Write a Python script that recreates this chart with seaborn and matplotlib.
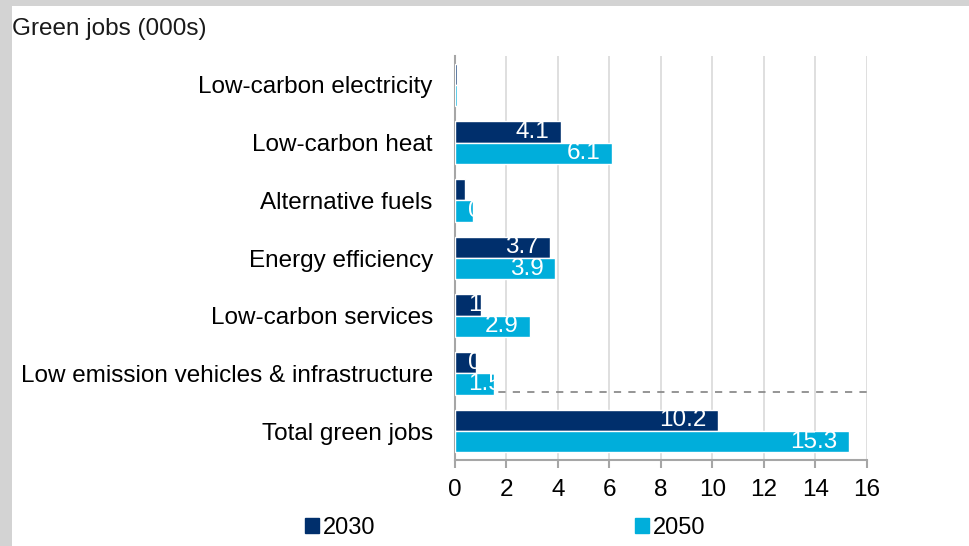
import pandas as pd
import matplotlib
matplotlib.use("Agg")
import matplotlib.pyplot as plt
import matplotlib.patches as mpatches
import seaborn as sns

categories = ["Low-carbon electricity", "Low-carbon heat", "Alternative fuels",
              "Energy efficiency", "Low-carbon services",
              "Low emission vehicles & infrastructure", "Total green jobs"]
years = ["2030", "2050"]
jobs_2030 = [0.08, 4.1, 0.4, 3.7, 1.0, 0.8, 10.2]
jobs_2050 = [0.08, 6.1, 0.7, 3.9, 2.9, 1.5, 15.3]
x_ticks = [0, 2, 4, 6, 8, 10, 12, 14, 16]

DARK = "#002f6c"
LIGHT = "#00aedb"

sns.set_theme(style="white")
plt.rcParams["font.family"] = ["Liberation Sans", "DejaVu Sans"]

df = pd.DataFrame({
    "category": categories * 2,
    "year": [years[0]] * len(categories) + [years[1]] * len(categories),
    "value": jobs_2030 + jobs_2050,
})

fig = plt.figure(figsize=(9.7, 5.46), dpi=100)
fig.patch.set_facecolor("#d3d3d3")
# white page area (gray strip on the left and top like the screenshot)
fig.patches.append(mpatches.Rectangle((12 / 970, 0), 1, 1 - 6 / 546,
                                      transform=fig.transFigure,
                                      facecolor="white", edgecolor="none", zorder=-10))

ax = fig.add_axes([455 / 970, 1 - 460 / 546, (867 - 455) / 970, (460 - 56) / 546])
ax.set_facecolor("none")

sns.barplot(data=df, y="category", x="value", hue="year", orient="h",
            palette=[DARK, LIGHT], width=0.74, gap=0, saturation=1,
            errorbar=None, ax=ax, legend=False, zorder=3)

ax.set_xlim(0, 16)
ax.set_xticks(x_ticks)
ax.set_xlabel("")
ax.set_ylabel("")
ax.xaxis.grid(True, color="#d9d9d9", linewidth=1.2)
ax.set_axisbelow(True)
for side in ["top", "right"]:
    ax.spines[side].set_visible(False)
ax.spines["left"].set_color("#a6a6a6")
ax.spines["bottom"].set_color("#a6a6a6")
ax.spines["left"].set_linewidth(1.5)
ax.spines["bottom"].set_linewidth(1.5)
ax.spines["left"].set_zorder(1)
ax.tick_params(axis="x", bottom=True, length=6, color="#a6a6a6", width=1.5,
               labelsize=17.5, labelcolor="black", pad=8)
ax.tick_params(axis="y", left=False, labelsize=17.5, labelcolor="black", pad=10)

# dashed separator above the total
ax.axhline(5.33, color="#8c8c8c", linestyle=(0, (4, 4)), linewidth=1.3, zorder=2)

# white value labels inside the bar ends, clipped to the bar
for container in ax.containers:
    for bar in container:
        w = bar.get_width()
        if w < 0.3:
            continue
        yc = bar.get_y() + bar.get_height() / 2
        lab = "{:g}".format(w)
        if w < 2:
            t = ax.text(0.5, yc, lab, ha="left", va="center", color="white",
                        fontsize=17.5, zorder=4)
        else:
            t = ax.text(w - 0.45, yc, lab, ha="right", va="center", color="white",
                        fontsize=17.5, zorder=4)
        t.set_clip_path(bar)

fig.text(12 / 970, 1 - 29 / 546, "Green jobs (000s)", ha="left", va="center",
         fontsize=17.5, color="#1a1a1a")

handles = [mpatches.Patch(color=DARK, label=years[0]),
           mpatches.Patch(color=LIGHT, label=years[1])]
fig.legend(handles=handles, loc="center", bbox_to_anchor=(505 / 970, 1 - 528 / 546),
           ncol=2, frameon=False, fontsize=17, handlelength=0.6, handleheight=0.6,
           handletextpad=0.15, columnspacing=11, labelcolor="black")

fig.savefig("out.png", dpi=100, facecolor=fig.get_facecolor())
